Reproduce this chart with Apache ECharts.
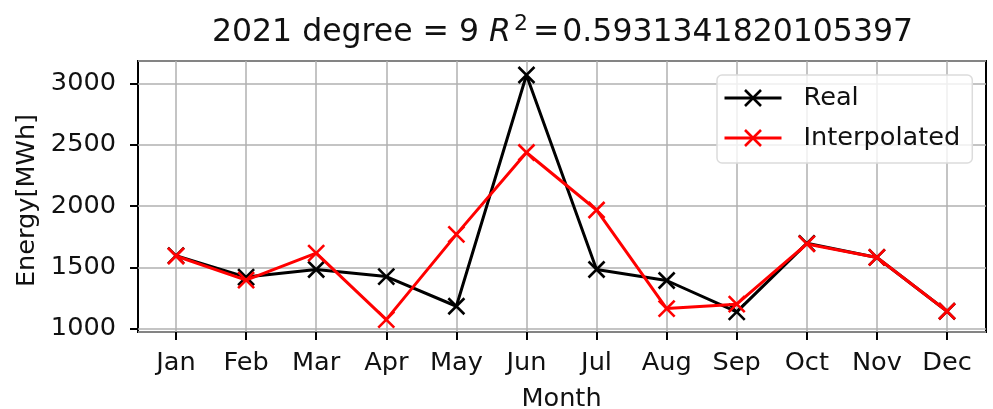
<!DOCTYPE html>
<html><head><meta charset="utf-8">
<script src="https://cdn.jsdelivr.net/npm/echarts@6/dist/echarts.min.js"></script>
<style>html,body{margin:0;padding:0;background:#fff}#c{width:993px;height:409px}</style>
</head><body><div id="c"></div>
<script>
const months = ['Jan','Feb','Mar','Apr','May','Jun','Jul','Aug','Sep','Oct','Nov','Dec'];
const realValues = [1595, 1420, 1482, 1424, 1182, 3068, 1482, 1392, 1136, 1695, 1580, 1141];
const interpolatedValues = [1592, 1395, 1615, 1073, 1768, 2436, 1967, 1163, 1199, 1690, 1580, 1141];
const yTicks = [1000, 1500, 2000, 2500, 3000];
const yMin = 972, yMax = 3182;

const FF = 'DejaVu Sans';
const TXT = '#111';
const FS = 25.6;
const X_SYMBOL = 'path://M0 0L10 10M10 0L0 10';

const chart = echarts.init(document.getElementById('c'), null, {renderer: 'canvas'});
chart.setOption({
  animation: false,
  backgroundColor: '#fff',
  title: {
    text: '2021 degree = 9 {i|R}{sup|2}{m|=}0.5931341820105397',
    left: 207, top: 8,
    textStyle: {
      fontFamily: FF, fontSize: 31.5, fontWeight: 'normal', color: TXT,
      rich: {
        i: {fontFamily: FF, fontSize: 31.5, fontStyle: 'italic', color: TXT},
        sup: {fontFamily: FF, fontSize: 22, color: TXT, padding: [0, 4, 17, 3]},
        m: {fontFamily: FF, fontSize: 31.5, color: TXT, padding: [0, 3, 0, 1]}
      }
    }
  },
  legend: {
    orient: 'vertical', left: 717, top: 75,
    itemWidth: 57, itemHeight: 20, itemGap: 10,
    padding: [8, 12, 10, 6],
    backgroundColor: 'rgba(255,255,255,0.8)',
    borderColor: '#dcdcdc', borderWidth: 1.5, borderRadius: 5,
    selectedMode: false,
    lineStyle: {width: 3},
    itemStyle: {borderWidth: 2.6},
    formatter: name => '{s|}' + name,
    textStyle: {fontFamily: FF, fontSize: FS, color: TXT, lineHeight: 30, rich: {s: {width: 17}}},
    data: ['Real', 'Interpolated']
  },
  grid: [
    {left: 138, right: 7, top: 61, bottom: 77, show: true, borderColor: '#000', borderWidth: 2, backgroundColor: 'transparent', containLabel: false, outerBoundsMode: 'none'},
    {left: 176, right: 46, top: 61, bottom: 77, show: false, containLabel: false, outerBoundsMode: 'none'}
  ],
  xAxis: [
    {gridIndex: 0, type: 'value', min: 0, max: 1, show: false},
    {
      gridIndex: 1, type: 'category', data: months, boundaryGap: false,
      name: 'Month', nameLocation: 'middle', nameGap: 54,
      nameTextStyle: {fontFamily: FF, fontSize: FS, color: TXT},
      axisLine: {show: false},
      axisTick: {show: true, interval: 0, length: 8, lineStyle: {color: '#000', width: 2}},
      axisLabel: {interval: 0, margin: 18, fontFamily: FF, fontSize: FS, color: TXT},
      splitLine: {show: true, interval: 0, lineStyle: {color: '#b0b0b0', width: 1.5}}
    }
  ],
  yAxis: [
    {
      gridIndex: 0, type: 'value', min: yMin, max: yMax,
      name: 'Energy[MWh]', nameLocation: 'middle', nameGap: 95, nameRotate: 90,
      nameTextStyle: {fontFamily: FF, fontSize: FS, color: TXT, padding: [0, 8, 0, 0]},
      axisLine: {show: false},
      axisTick: {show: true, length: 8, lineStyle: {color: '#000', width: 2}},
      axisLabel: {
        margin: 22, fontFamily: FF, fontSize: FS, color: TXT,
        showMinLabel: false, showMaxLabel: false,
        formatter: v => yTicks.includes(v) ? String(v) : ''
      },
      splitLine: {show: true, lineStyle: {color: '#b0b0b0', width: 1.5}}
    },
    {gridIndex: 1, type: 'value', min: yMin, max: yMax, show: false}
  ],
  series: [
    {
      name: 'Real', type: 'line', xAxisIndex: 1, yAxisIndex: 1, data: realValues,
      symbol: X_SYMBOL, symbolSize: 16, showAllSymbol: true,
      lineStyle: {color: '#000', width: 3},
      itemStyle: {color: '#000', borderColor: '#000', borderWidth: 2.6},
      emphasis: {disabled: true}, z: 3
    },
    {
      name: 'Interpolated', type: 'line', xAxisIndex: 1, yAxisIndex: 1, data: interpolatedValues,
      symbol: X_SYMBOL, symbolSize: 16, showAllSymbol: true,
      lineStyle: {color: '#ff0000', width: 3},
      itemStyle: {color: '#ff0000', borderColor: '#ff0000', borderWidth: 2.6},
      emphasis: {disabled: true}, z: 4
    }
  ]
});
</script>
</body></html>
